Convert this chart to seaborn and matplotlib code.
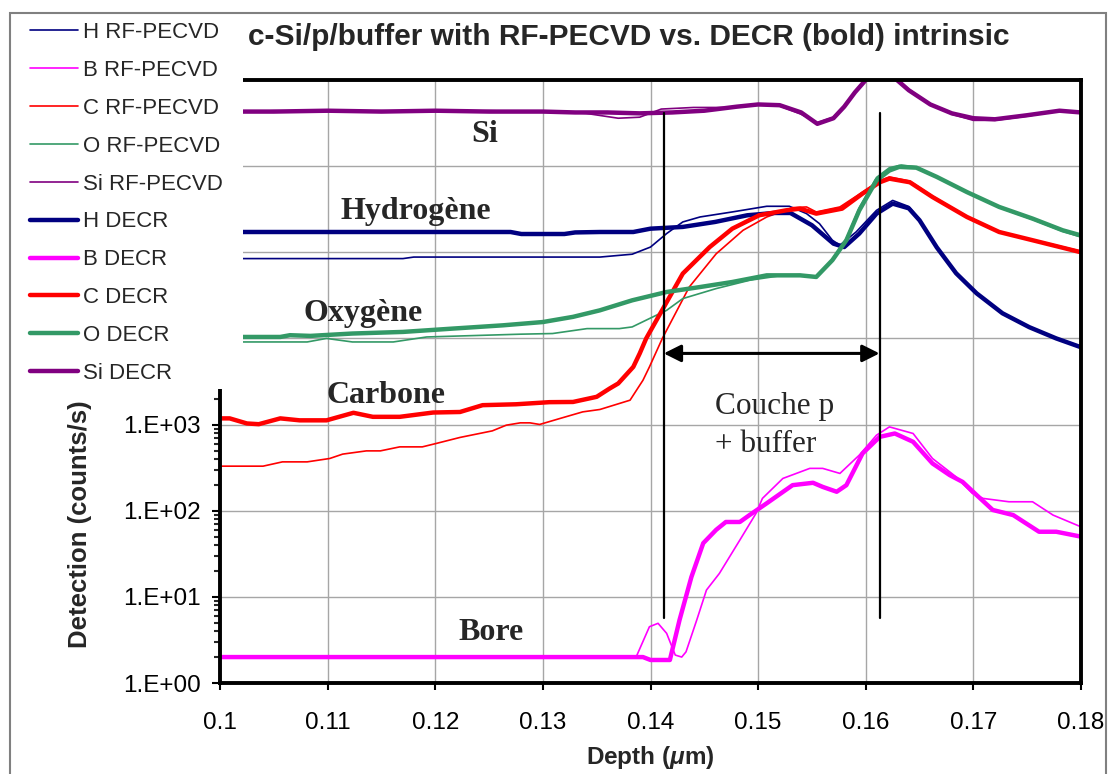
import numpy as np
import pandas as pd
import matplotlib
matplotlib.use("Agg")
import matplotlib.pyplot as plt
from matplotlib.patches import Rectangle
from matplotlib.lines import Line2D
from matplotlib.ticker import FixedLocator, FuncFormatter, LogLocator, NullFormatter
import seaborn as sns

# ---------------------------------------------------------------- data
# SIMS depth profiles (depth in µm, detection in counts/s)
depth_H_rf = [0.100, 0.117, 0.118, 0.1353, 0.1383, 0.1400, 0.1415, 0.1430, 0.1446, 0.1476,
              0.1508, 0.1529, 0.1545, 0.1557, 0.1569, 0.1576, 0.1591, 0.1610, 0.1625, 0.1640,
              0.1650, 0.1666, 0.1684, 0.1703, 0.1727, 0.1752, 0.1777, 0.1800]
H_rf = [8.45e4, 8.45e4, 8.8e4, 8.8e4, 9.5e4, 1.15e5, 1.65e5, 2.25e5, 2.57e5, 2.94e5,
        3.42e5, 3.42e5, 2.81e5, 2.15e5, 1.38e5, 1.21e5, 1.72e5, 3.07e5, 4.0e5, 3.4e5,
        2.4e5, 1.14e5, 5.7e4, 3.3e4, 1.95e4, 1.35e4, 1.0e4, 7.8e3]

depth_H_decr = [0.100, 0.127, 0.128, 0.132, 0.133, 0.1353, 0.1384, 0.1400, 0.1430, 0.1460,
                0.1490, 0.1515, 0.1530, 0.1550, 0.1570, 0.1580, 0.1594, 0.1610, 0.1625, 0.1640,
                0.1650, 0.1666, 0.1684, 0.1703, 0.1727, 0.1752, 0.1777, 0.1800]
H_decr = [1.72e5, 1.72e5, 1.63e5, 1.63e5, 1.70e5, 1.72e5, 1.72e5, 1.88e5, 1.97e5, 2.25e5,
          2.69e5, 2.86e5, 2.86e5, 2.06e5, 1.26e5, 1.15e5, 1.65e5, 2.81e5, 3.67e5, 3.24e5,
          2.35e5, 1.14e5, 5.7e4, 3.34e4, 1.96e4, 1.35e4, 1.0e4, 7.9e3]

depth_B_rf = [0.100, 0.1387, 0.1399, 0.1407, 0.1415, 0.1423, 0.1429, 0.1433, 0.1443, 0.1452,
              0.1464, 0.1483, 0.1498, 0.1504, 0.1523, 0.1548, 0.1560, 0.1576, 0.1594, 0.1610,
              0.1622, 0.1644, 0.1662, 0.1684, 0.1699, 0.1709, 0.1733, 0.1755, 0.1774, 0.1800]
B_rf = [2.0, 2.05, 4.5, 4.93, 3.77, 2.11, 2.0, 2.3, 5.4, 12.0,
        18.7, 45.6, 93.0, 139.0, 237.0, 310.0, 310.0, 271.0, 442.0, 753.0,
        940.0, 788.0, 404.0, 247.0, 159.0, 139.0, 127.0, 127.0, 89.0, 65.0]

depth_B_decr = [0.100, 0.1393, 0.1400, 0.1418, 0.1427, 0.1438, 0.1449, 0.1461, 0.1470, 0.1483,
                0.1492, 0.1508, 0.1532, 0.1551, 0.1560, 0.1573, 0.1582, 0.1597, 0.1613, 0.1627,
                0.1644, 0.1662, 0.1678, 0.1690, 0.1703, 0.1718, 0.1737, 0.1761, 0.1777, 0.1800]
B_decr = [2.0, 2.0, 1.85, 1.85, 5.4, 17.0, 42.0, 60.0, 74.0, 74.0,
          89.0, 122.0, 198.0, 211.0, 189.0, 166.0, 198.0, 462.0, 720.0, 788.0,
          631.0, 354.0, 259.0, 216.0, 152.0, 102.0, 89.0, 57.0, 57.0, 50.0]

depth_C_rf = [0.100, 0.1040, 0.1058, 0.1081, 0.1102, 0.1114, 0.1136, 0.1149, 0.1167, 0.1188,
              0.1201, 0.1223, 0.1253, 0.1266, 0.1279, 0.1288, 0.1297, 0.1316, 0.1337, 0.1353,
              0.1381, 0.1387, 0.1393, 0.1399, 0.1411, 0.1436, 0.1461, 0.1486, 0.1508, 0.1532,
              0.1545, 0.1554, 0.1576, 0.1597, 0.1613, 0.1622, 0.1641, 0.1662, 0.1694, 0.1724,
              0.1755, 0.1800]
C_rf = [329, 329, 369, 369, 404, 454, 495, 495, 551, 551,
        604, 709, 845, 984, 1047, 1047, 1003, 1178, 1404, 1497,
        1919, 2506, 3270, 4670, 1.0e4, 3.95e4, 9.6e4, 1.80e5, 2.57e5, 3.30e5,
        3.36e5, 2.94e5, 3.36e5, 5.0e5, 6.8e5, 7.5e5, 6.7e5, 4.5e5, 2.6e5, 1.75e5,
        1.4e5, 1.03e5]

depth_C_decr = [0.100, 0.1009, 0.1025, 0.1036, 0.1056, 0.1074, 0.1099, 0.1124, 0.1142, 0.1167,
                0.1198, 0.1223, 0.1244, 0.1275, 0.1306, 0.1328, 0.1350, 0.1362, 0.1370, 0.1384,
                0.1390, 0.1396, 0.1409, 0.1430, 0.1455, 0.1476, 0.1501, 0.1526, 0.1539, 0.1554,
                0.1578, 0.1597, 0.1613, 0.1622, 0.1641, 0.1662, 0.1694, 0.1724, 0.1755, 0.1800]
C_decr = [1180, 1180, 1030, 1010, 1180, 1120, 1120, 1370, 1230, 1230,
          1380, 1400, 1680, 1720, 1820, 1830, 2100, 2620, 3000, 4670,
          6700, 1.0e4, 1.94e4, 5.66e4, 1.15e5, 1.88e5, 2.69e5, 3.07e5, 3.21e5, 2.81e5,
          3.21e5, 4.80e5, 6.5e5, 7.16e5, 6.5e5, 4.38e5, 2.57e5, 1.72e5, 1.38e5, 1.0e5]

depth_O_rf = [0.100, 0.1081, 0.1099, 0.1123, 0.1161, 0.1192, 0.1279, 0.1309, 0.1341, 0.1371,
              0.1383, 0.1399, 0.1415, 0.1430, 0.1461, 0.1492, 0.1523, 0.1539, 0.1554, 0.1569,
              0.1582, 0.1594, 0.1610, 0.1622, 0.1633, 0.1647, 0.1666, 0.1694, 0.1724, 0.1755,
              0.1783, 0.1800]
O_rf = [9.1e3, 9.1e3, 1.0e4, 9.1e3, 9.1e3, 1.04e4, 1.12e4, 1.14e4, 1.30e4, 1.30e4,
        1.36e4, 1.70e4, 2.12e4, 2.9e4, 3.79e4, 4.73e4, 5.4e4, 5.5e4, 5.2e4, 8.3e4,
        1.45e5, 3.3e5, 7.4e5, 9.6e5, 1.03e6, 9.8e5, 7.6e5, 5.0e5, 3.3e5, 2.4e5,
        1.75e5, 1.5e5]

depth_O_decr = [0.100, 0.1056, 0.1065, 0.1084, 0.1123, 0.1170, 0.1216, 0.1263, 0.1300, 0.1328,
                0.1353, 0.1383, 0.1415, 0.1446, 0.1476, 0.1508, 0.1539, 0.1554, 0.1569, 0.1582,
                0.1594, 0.1610, 0.1622, 0.1631, 0.1647, 0.1666, 0.1694, 0.1724, 0.1755, 0.1783,
                0.1800]
O_decr = [1.04e4, 1.04e4, 1.09e4, 1.07e4, 1.14e4, 1.19e4, 1.30e4, 1.42e4, 1.55e4, 1.78e4,
          2.12e4, 2.77e4, 3.46e4, 3.95e4, 4.52e4, 5.4e4, 5.4e4, 5.17e4, 8.1e4, 1.38e5,
          3.07e5, 6.84e5, 8.9e5, 9.8e5, 9.6e5, 7.5e5, 5.0e5, 3.36e5, 2.46e5, 1.80e5,
          1.57e5]

depth_Si_rf = [0.100, 0.105, 0.110, 0.115, 0.120, 0.125, 0.130, 0.134, 0.137, 0.139,
               0.141, 0.144, 0.147, 0.150, 0.152, 0.154, 0.1555, 0.157, 0.158, 0.159,
               0.160, 0.1614, 0.1629, 0.164, 0.166, 0.168, 0.170, 0.172, 0.175, 0.178, 0.180]
Si_rf = [4.2e6, 4.4e6, 4.3e6, 4.4e6, 4.3e6, 4.4e6, 4.3e6, 4.1e6, 3.6e6, 3.7e6,
         4.6e6, 4.8e6, 4.8e6, 5.2e6, 5.0e6, 4.0e6, 3.2e6, 3.7e6, 5.0e6, 7.4e6,
         1.02e7, 1.45e7, 1.05e7, 7.8e6, 5.3e6, 4.0e6, 3.4e6, 3.4e6, 3.8e6, 4.4e6, 4.2e6]

depth_Si_decr = [0.100, 0.105, 0.110, 0.115, 0.120, 0.125, 0.130, 0.133, 0.136, 0.139,
                 0.142, 0.145, 0.148, 0.150, 0.152, 0.154, 0.1555, 0.157, 0.158, 0.159,
                 0.160, 0.1614, 0.1629, 0.164, 0.166, 0.168, 0.170, 0.172, 0.175, 0.178, 0.180]
Si_decr = [4.3e6, 4.3e6, 4.4e6, 4.3e6, 4.4e6, 4.3e6, 4.3e6, 4.2e6, 4.2e6, 4.1e6,
           4.2e6, 4.4e6, 4.9e6, 5.2e6, 5.1e6, 4.2e6, 3.1e6, 3.6e6, 4.9e6, 7.2e6,
           1.0e7, 1.4e7, 1.0e7, 7.6e6, 5.2e6, 4.1e6, 3.6e6, 3.5e6, 3.9e6, 4.4e6, 4.2e6]

x_ticks = [0.10, 0.11, 0.12, 0.13, 0.14, 0.15, 0.16, 0.17, 0.18]
x_tick_labels = ["0.1", "0.11", "0.12", "0.13", "0.14", "0.15", "0.16", "0.17", "0.18"]

# p-layer + buffer boundaries (µm)
layer_start, layer_end = 0.14123, 0.16128

# ---------------------------------------------------------------- style
sns.set_theme(style="white")
plt.rcParams["font.family"] = ["Liberation Sans", "DejaVu Sans"]
plt.rcParams["mathtext.fontset"] = "custom"
plt.rcParams["mathtext.it"] = "Liberation Sans:italic:bold"
plt.rcParams["mathtext.rm"] = "Liberation Sans:bold"

colors = {"H": "#000080", "B": "#FF00FF", "C": "#FF0000", "O": "#339966", "Si": "#800080"}
THIN, BOLD = 1.2, 3.2

series = [
    ("H RF-PECVD", depth_H_rf, H_rf, "H", THIN),
    ("B RF-PECVD", depth_B_rf, B_rf, "B", THIN),
    ("C RF-PECVD", depth_C_rf, C_rf, "C", THIN),
    ("O RF-PECVD", depth_O_rf, O_rf, "O", THIN),
    ("Si RF-PECVD", depth_Si_rf, Si_rf, "Si", THIN),
    ("H DECR", depth_H_decr, H_decr, "H", BOLD),
    ("B DECR", depth_B_decr, B_decr, "B", BOLD),
    ("C DECR", depth_C_decr, C_decr, "C", BOLD),
    ("O DECR", depth_O_decr, O_decr, "O", BOLD),
    ("Si DECR", depth_Si_decr, Si_decr, "Si", BOLD),
]

W, H = 1110, 774
fig = plt.figure(figsize=(W / 100, H / 100), dpi=100)
fig.patch.set_facecolor("white")
ax = fig.add_axes([220 / W, 1 - 683 / H, (1081 - 220) / W, (683 - 80) / H])

handles = []
for name, xs, ys, elem, lw in series:
    df = pd.DataFrame({"depth": xs, "counts": ys})
    sns.lineplot(data=df, x="depth", y="counts", ax=ax, color=colors[elem],
                 linewidth=lw, estimator=None, sort=True, legend=False,
                 solid_joinstyle="round", solid_capstyle="round")
    handles.append(Line2D([], [], color=colors[elem], linewidth=lw, label=name))

ax.set_yscale("log")
ax.set_ylim(1, 1e7)
ax.set_xlim(0.1, 0.18)


def decade_label(v, pos):
    # upper decades sit behind the legend panel, so only the lower ones are labelled
    exp = int(round(np.log10(v)))
    return f"1.E+{exp:02d}" if exp <= 3 else ""


ax.xaxis.set_major_locator(FixedLocator(x_ticks))
ax.set_xticklabels(x_tick_labels)
ax.yaxis.set_major_locator(LogLocator(base=10, numticks=20))
ax.yaxis.set_minor_locator(LogLocator(base=10, subs=np.arange(2, 10), numticks=20))
ax.yaxis.set_minor_formatter(NullFormatter())
ax.yaxis.set_major_formatter(FuncFormatter(decade_label))

ax.grid(True, which="major", color="#a6a6a6", linewidth=1.0)
for s in ax.spines.values():
    s.set_color("black")
    s.set_linewidth(2.8)
ax.tick_params(axis="x", which="major", direction="out", length=5, width=1.5,
               labelsize=17.5, colors="black", pad=16, bottom=True)
ax.tick_params(axis="y", which="major", direction="out", length=6, width=1.5,
               labelsize=17.5, colors="black", pad=8, left=True)
ax.tick_params(axis="y", which="minor", direction="out", length=4, width=1.5, left=True)

ax.set_xlabel(r"Depth ($\mu$m)", fontsize=17.5, fontweight="bold", labelpad=7)
ax.set_ylabel("Detection (counts/s)", fontsize=18.5, fontweight="bold")
ax.yaxis.set_label_coords((92 - 220) / 861, (683 - 524) / 603)

# layer boundaries and thickness arrow
for xb in (layer_start, layer_end):
    ax.plot([xb, xb], [5.7, 4.1e6], color="black", linewidth=1.6, zorder=5)
ax.annotate("", xy=(layer_start, 6.7e3), xytext=(layer_end, 6.7e3),
            arrowprops=dict(arrowstyle="<|-|>", color="black", lw=2.2,
                            mutation_scale=26, shrinkA=0, shrinkB=0), zorder=6)
ax.text(0.14596, 2.4e3, "Couche p\n+ buffer", fontsize=22.5, family="Liberation Serif",
        ha="left", va="top", linespacing=1.42, zorder=6)

# element labels
serif_bold = dict(fontsize=23, family="Liberation Serif", fontweight="bold",
                  ha="left", va="baseline", zorder=6)
ax.text(0.12335, 1.9e6, "Si", **serif_bold)
ax.text(0.11121, 2.46e5, "Hydrogène", **serif_bold)
ax.text(0.1078, 1.6e4, "Oxygène", **serif_bold)
ax.text(0.1099, 1.79e3, "Carbone", **serif_bold)
ax.text(0.12213, 3.15, "Bore", **serif_bold)

# title
fig.text(248 / W, 1 - 45 / H, "c-Si/p/buffer with RF-PECVD vs. DECR (bold) intrinsic",
         fontsize=21.5, fontweight="bold", ha="left", va="baseline")

# legend panel on top of the plot area
fig.add_artist(Rectangle((11 / W, 1 - 389 / H), (243 - 11) / W, (389 - 14) / H,
                         transform=fig.transFigure, facecolor="white",
                         edgecolor="none", zorder=3))
leg = fig.legend(handles=handles, loc="upper left", bbox_to_anchor=(30 / W, 1 - 22 / H),
                 frameon=False, fontsize=16, handlelength=2.15, handletextpad=0.25,
                 labelspacing=0.76, borderpad=0, borderaxespad=0)
leg.set_zorder(5)

# outer chart frame
fig.add_artist(Rectangle((10 / W, -0.05), (1106 - 10) / W, 1 - 13 / H + 0.05,
                         transform=fig.transFigure, facecolor="none",
                         edgecolor="#808080", linewidth=1.5, zorder=7))

fig.savefig("out.png", dpi=100)
